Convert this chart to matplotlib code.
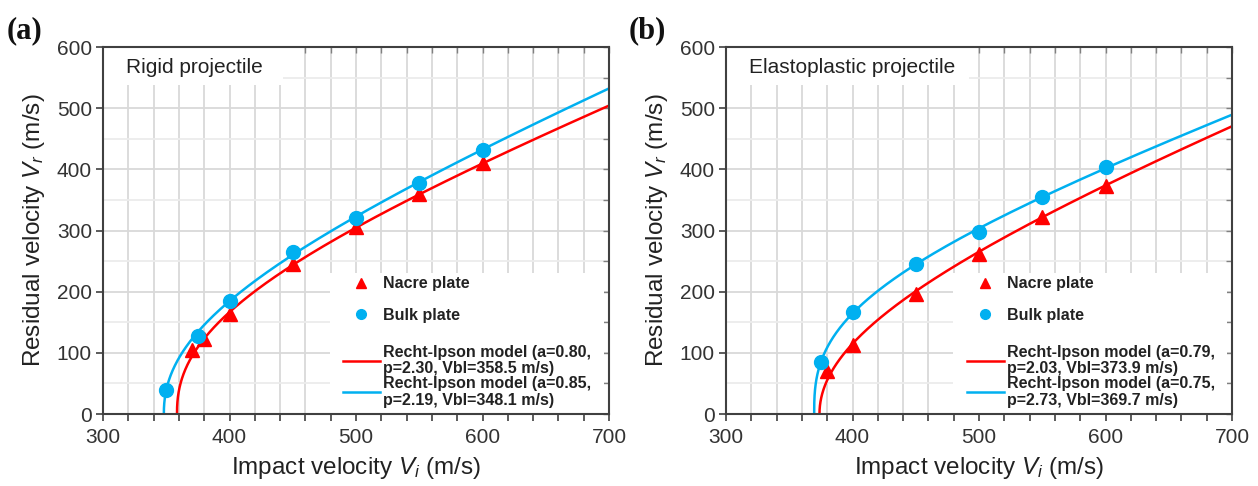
import numpy as np
import matplotlib
matplotlib.use("Agg")
import matplotlib.pyplot as plt
from matplotlib.patches import Rectangle

plt.rcParams['font.family'] = ['Liberation Sans', 'DejaVu Sans']
plt.rcParams['mathtext.fontset'] = 'custom'
plt.rcParams['mathtext.rm'] = 'Liberation Sans'
plt.rcParams['mathtext.it'] = 'Liberation Sans:italic'

# ---- data ----
# panel (a): rigid projectile
a_nacre_vi = [370, 380, 400, 450, 500, 550, 600]
a_nacre_vr = [105, 122, 163, 245, 305, 360, 410]
a_bulk_vi = [350, 375, 400, 450, 500, 550, 600]
a_bulk_vr = [40, 128, 185, 265, 320, 378, 432]
a_model_red = (0.80, 2.30, 358.5)
a_model_blue = (0.85, 2.19, 348.1)

# panel (b): elastoplastic projectile
b_nacre_vi = [380, 400, 450, 500, 550, 600]
b_nacre_vr = [70, 113, 197, 262, 322, 373]
b_bulk_vi = [375, 400, 450, 500, 550, 600]
b_bulk_vr = [85, 167, 245, 298, 354, 403]
b_model_red = (0.79, 2.03, 373.9)
b_model_blue = (0.75, 2.73, 369.7)

panel_titles = ["Rigid projectile", "Elastoplastic projectile"]
panel_tags = ["(a)", "(b)"]

RED = '#ff0000'
BLUE = '#00b0f0'
GRID = '#d9d9d9'
GRID_MINOR = '#ececec'
DARK = '#333333'


def recht_ipson(params, vmax=700):
    a, p, vbl = params
    dv = np.geomspace(1e-4, vmax - vbl, 600)
    vi = vbl + dv
    vr = a * (vi ** p - vbl ** p) ** (1.0 / p)
    return np.concatenate([[vbl], vi]), np.concatenate([[0.0], vr])


def model_label(params):
    a, p, vbl = params
    return f"Recht-Ipson model (a={a:.2f},\np={p:.2f}, Vbl={vbl:.1f} m/s)"


fig = plt.figure(figsize=(12.58, 4.86), dpi=100)
W, H = 1258, 486
axes_px = [(103, 609), (726, 1232)]
top_px, bot_px = 47, 414

panels = [
    (a_nacre_vi, a_nacre_vr, a_bulk_vi, a_bulk_vr, a_model_red, a_model_blue),
    (b_nacre_vi, b_nacre_vr, b_bulk_vi, b_bulk_vr, b_model_red, b_model_blue),
]
title_box_w = [0.356, 0.48]
leg_box_x = [0.449, 0.449]
leg_hx = [0.474, 0.476]

for i, (nvi, nvr, bvi, bvr, mr, mb) in enumerate(panels):
    l, r = axes_px[i]
    ax = fig.add_axes([l / W, 1 - bot_px / H, (r - l) / W, (bot_px - top_px) / H])
    ax.set_xlim(300, 700)
    ax.set_ylim(0, 600)
    ax.set_xticks(np.arange(300, 701, 100))
    ax.set_xticks(np.arange(300, 701, 20), minor=True)
    ax.set_yticks(np.arange(0, 601, 100))
    ax.set_yticks(np.arange(0, 601, 50), minor=True)

    # grid
    for x in np.arange(320, 700, 20):
        ax.axvline(x, color=GRID, lw=1.3, zorder=0)
    for y in np.arange(50, 600, 50):
        ax.axhline(y, color=GRID if y % 100 == 0 else GRID_MINOR, lw=1.3, zorder=0)

    # masks
    ax.add_patch(Rectangle((0, 0.896), title_box_w[i], 0.104, transform=ax.transAxes,
                           facecolor='white', edgecolor='none', zorder=1))
    ax.add_patch(Rectangle((leg_box_x[i], 0), 0.99 - leg_box_x[i], 0.385, transform=ax.transAxes,
                           facecolor='white', edgecolor='none', zorder=1))

    xr, yr = recht_ipson(mr)
    xb, yb = recht_ipson(mb)
    lr, = ax.plot(xr, yr, color=RED, lw=1.8, zorder=3)
    lb, = ax.plot(xb, yb, color=BLUE, lw=1.8, zorder=3)
    hn, = ax.plot(nvi, nvr, ls='none', marker='^', ms=9.5, color=RED, zorder=4)
    hb, = ax.plot(bvi, bvr, ls='none', marker='o', ms=10, color=BLUE, zorder=4)

    ax.text(0.045, 0.945, panel_titles[i], transform=ax.transAxes, fontsize=15,
            color='#222222', va='center', ha='left', zorder=5)

    leg1 = ax.legend([hn, hb], ["Nacre plate", "Bulk plate"], loc='center left',
                     bbox_to_anchor=(leg_hx[i], 0.312), frameon=False, borderpad=0,
                     borderaxespad=0, handlelength=2.3, handletextpad=0.2,
                     labelspacing=1.05, markerscale=0.7,
                     prop={'weight': 'bold', 'size': 11.5})
    for t in leg1.get_texts():
        t.set_color('#222222')
    ax.add_artist(leg1)
    leg2 = ax.legend([lr, lb], [model_label(mr), model_label(mb)], loc='center left',
                     bbox_to_anchor=(leg_hx[i], 0.103), frameon=False, borderpad=0,
                     borderaxespad=0, handlelength=2.3, handletextpad=0.2,
                     labelspacing=0.0, prop={'weight': 'bold', 'size': 11.5})
    for t in leg2.get_texts():
        t.set_color('#222222')
        t.set_linespacing(1.12)
    leg1.set_zorder(6)
    leg2.set_zorder(6)

    for s in ax.spines.values():
        s.set_color('#404040')
        s.set_linewidth(1.5)
        s.set_zorder(7)

    ax.tick_params(axis='x', which='both', bottom=True, top=False, direction='out',
                   length=5, width=1.2, color='#404040', labelsize=15, labelcolor=DARK, pad=5)
    ax.tick_params(axis='y', which='major', left=True, right=False, direction='out',
                   length=5, width=1.2, color='#404040', labelsize=15, labelcolor=DARK, pad=3)
    ax.tick_params(axis='y', which='minor', left=False, right=False)
    # inward ticks on top and right via secondary axes
    sx = ax.secondary_xaxis('top')
    sx.set_xticks(np.arange(300, 701, 20))
    sx.tick_params(direction='in', length=4, width=1.0, color='#808080', labeltop=False)
    sx.spines['top'].set_visible(False)
    sy = ax.secondary_yaxis('right')
    sy.set_yticks(np.arange(0, 601, 50))
    sy.tick_params(direction='in', length=4, width=1.0, color='#808080', labelright=False)
    sy.spines['right'].set_visible(False)

    ax.set_xlabel(r"Impact velocity $V_i$ (m/s)", fontsize=17.5, color='#222222', labelpad=6)
    ax.set_ylabel(r"Residual velocity $V_r$ (m/s)", fontsize=17.5, color='#222222', labelpad=7)

    fig.text((7 if i == 0 else 629) / W, 1 - 31 / H, panel_tags[i], fontsize=22,
             family=['Liberation Serif', 'DejaVu Serif'], weight='bold',
             va='center', ha='left', color='#111111')

fig.savefig('out.png', dpi=100, facecolor='white')
